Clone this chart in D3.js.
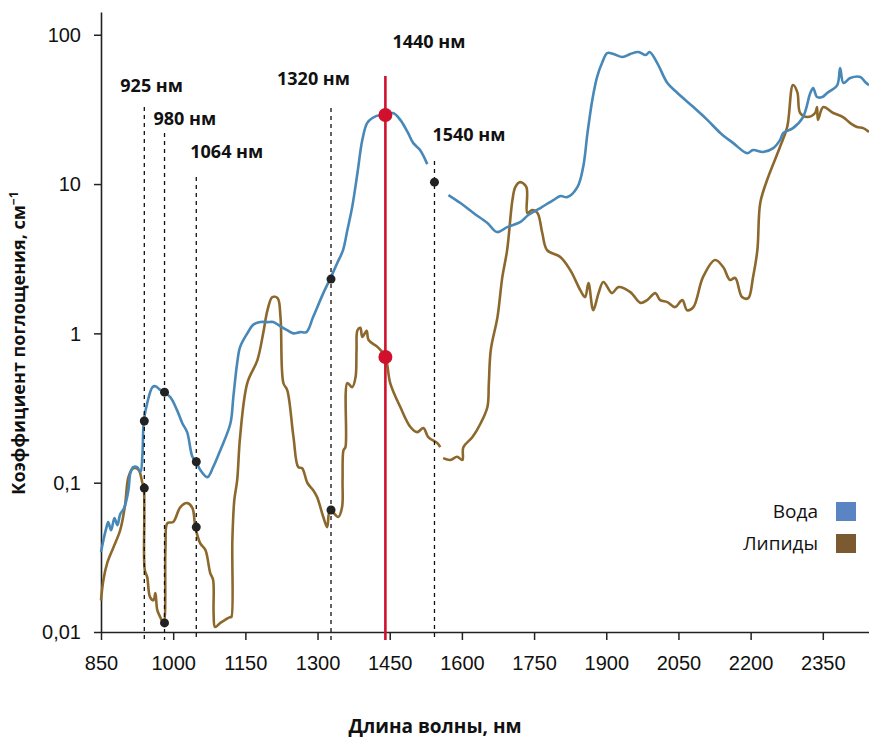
<!DOCTYPE html>
<html>
<head>
<meta charset="utf-8">
<script src="https://cdn.jsdelivr.net/npm/d3@7"></script>
<style>
  body { margin: 0; background: #fff; }
  svg { display: block; font-family: "Open Sans", "DejaVu Sans", sans-serif; }
</style>
</head>
<body>
<div id="chart"></div>
<script>

// Axis ticks
var xTicks = [850, 1000, 1150, 1300, 1450, 1600, 1750, 1900, 2050, 2200, 2350];
var yTicks = [0.01, 0.1, 1, 10, 100];
var yTickLabels = ["0,01", "0,1", "1", "10", "100"];

// Water absorption (nm / cm^-1), null = break in the curve
var waterNm = [850, 855, 861, 865, 871, 878, 884, 890, 898, 907, 911, 917, 925, 932, 936, 939, 946, 957, 963, 971,
  980, 994, 1008, 1019, 1029, 1040, 1048, 1056, 1071, 1083, 1098, 1119, 1125, 1133, 1139, 1154, 1166, 1181, 1196, 1208,
  1222, 1237, 1250, 1264, 1277, 1291, 1312, 1326, 1341, 1353, 1362, 1372, 1383, 1393, 1403, 1414, 1430, 1441, 1457, 1472,
  1488, 1499, 1513, 1528, 1550, 1572, 1597, 1624, 1653, 1673, 1694, 1721, 1738, 1763, 1790, 1805, 1819, 1840, 1852, 1861,
  1871, 1881, 1892, 1902, 1915, 1934, 1950, 1967, 1982, 1990, 2006, 2027, 2048, 2081, 2110, 2137, 2164, 2193, 2205, 2226,
  2247, 2261, 2268, 2288, 2309, 2324, 2330, 2338, 2349, 2359, 2380, 2386, 2393, 2407, 2428, 2438, 2446];
var waterVal = [0.0343, 0.0412, 0.0496, 0.0545, 0.0481, 0.058, 0.052, 0.0616, 0.0676, 0.0891, 0.116, 0.127, 0.127, 0.118, 0.153, 0.259, 0.341, 0.436, 0.443, 0.423,
  0.404, 0.374, 0.306, 0.25, 0.218, 0.149, 0.138, 0.122, 0.109, 0.127, 0.165, 0.25, 0.374, 0.633, 0.809, 1.0, 1.14, 1.19, 1.19, 1.19,
  1.12, 1.05, 1.0, 1.02, 1.02, 1.29, 1.86, 2.31, 2.96, 3.61, 4.92, 7.02, 11.9, 19.7, 25.6, 27.7, 29.0, 29.0, 29.9, 26.9,
  22.0, 18.8, 16.9, 13.6, null, 8.44, 7.46, 6.4, 5.48, 4.77, 5.15, 5.56, 6.2, 6.91, 7.81, 8.31, 8.18, 9.55, 13.0, 22.0,
  36.6, 52.2, 65.6, 75.4, 74.3, 70.9, 74.3, 76.6, 73.1, 76.6, 64.6, 47.5, 40.7, 32.8, 26.9, 22.0, 18.8, 16.1, 16.9, 16.4,
  17.4, 19.7, 22.0, 23.7, 28.1, 40.7, 44.0, 38.3, 38.3, 40.7, 46.0, 59.8, 47.5, 51.3, 52.1, 48.2, 46.0];

// Lipid absorption (nm / cm^-1)
var lipidNm = [850, 855, 863, 876, 890, 900, 907, 917, 928, 936, 939, 940, 941, 946, 952, 959, 963, 967, 973, 980,
  984, 988, 1000, 1015, 1029, 1040, 1046, 1056, 1067, 1077, 1083, 1084, 1087, 1098, 1119, 1121, 1123, 1127, 1133, 1139,
  1154, 1175, 1187, 1196, 1206, 1217, 1223, 1229, 1237, 1250, 1260, 1268, 1279, 1291, 1299, 1312, 1320, 1326, 1343, 1351,
  1352, 1354, 1358, 1362, 1372, 1379, 1381, 1383, 1389, 1393, 1402, 1406, 1425, 1441, 1451, 1472, 1493, 1507, 1520, 1530,
  1549, 1555, 1558, 1561, 1576, 1590, 1601, 1603, 1622, 1639, 1653, 1656, 1660, 1674, 1684, 1694, 1705, 1711, 1721, 1734,
  1736, 1746, 1757, 1767, 1777, 1805, 1825, 1846, 1856, 1863, 1873, 1884, 1894, 1912, 1925, 1950, 1971, 1985, 2002, 2012,
  2027, 2043, 2058, 2068, 2081, 2101, 2126, 2143, 2157, 2168, 2182, 2195, 2205, 2214, 2220, 2234, 2261, 2276, 2288, 2297,
  2303, 2318, 2334, 2338, 2340, 2351, 2372, 2392, 2407, 2421, 2434, 2446];
var lipidVal = [0.0163, 0.0223, 0.029, 0.037, 0.0482, 0.0708, 0.109, 0.125, 0.122, 0.0995, 0.092, 0.0626, 0.026, 0.0233, 0.0171, 0.0163, 0.0182, 0.014, 0.0126, 0.0115,
  0.037, 0.0536, 0.0545, 0.0687, 0.073, 0.0676, 0.0504, 0.0394, 0.0354, 0.0248, 0.0223, 0.0134, 0.0108, 0.0115, 0.0126, 0.0126, 0.0412, 0.0764, 0.104, 0.202,
  0.465, 0.662, 1.0, 1.43, 1.75, 1.72, 1.29, 0.465, 0.417, 0.202, 0.127, 0.125, 0.0995, 0.0891, 0.0801, 0.0589, 0.0504, 0.0656, 0.0589, 0.0687,
  0.104, 0.165, 0.173, 0.465, 0.436, 0.509, 0.77, 1.05, 1.09, 0.945, 1.04, 0.902, 0.809, 0.694, 0.465, 0.321, 0.236, 0.218, 0.232, 0.202,
  0.184, 0.173, null, 0.146, 0.142, 0.149, 0.142, 0.173, 0.202, 0.25, 0.321, 0.465, 0.773, 1.29, 2.38, 3.61, 7.81, 9.55, 10.3, 9.55,
  6.4, 6.7, 6.4, 4.7, 3.61, 3.24, 2.66, 1.95, 1.75, 2.17, 1.43, 1.86, 2.21, 1.86, 2.04, 1.89, 1.6, 1.67, 1.86, 1.67,
  1.62, 1.5, 1.67, 1.43, 1.5, 2.38, 3.1, 2.78, 2.28, 2.35, 1.75, 1.72, 2.38, 3.61, 7.46, 10.6, 17.7, 24.1, 46.0, 41.3,
  29.9, 28.1, 29.9, 32.8, 26.9, 32.8, 29.9, 28.1, 25.6, 24.1, 23.7, 22.3];

// Laser wavelengths marked on the chart (label, drawn position, values on curves)
var markerLabels = ["925 нм", "980 нм", "1064 нм", "1320 нм", "1440 нм", "1540 нм"];
var markerNm = [940, 982, 1048, 1328, 1441, 1543];
var markerWater = [0.259, 0.404, 0.138, 2.31, 29.0, 10.3];
var markerLipid = [0.092, 0.0115, 0.0504, 0.0656, 0.694, null];

var seriesNames = ["Вода", "Липиды"];

// Layout of marker labels (pixels): label offset, label baseline, top of the guide line
var labelLayout = [
  {dx: -24, y: 92, top: 107},
  {dx: -11, y: 125, top: 133},
  {dx: -6, y: 158, top: 177},
  {dx: -54, y: 85, top: 108},
  {dx: 7, y: 48, top: 76},
  {dx: -2, y: 141, top: 161}
];

var width = 869,
  height = 740,
  margin = {top: 12, right: 0, bottom: 108, left: 101};

var waterColor = "#4888b8",
  lipidColor = "#8c682c",
  redColor = "#d0102c";

var chartW = width - margin.left - margin.right;
var chartH = height - margin.top - margin.bottom;

var xScale = d3.scaleLinear()
  .domain([850, 2446])
  .range([0, chartW]);

var yScale = d3.scaleLog()
  .domain([0.01, 142])
  .range([chartH, 0]);

var svg = d3.select("#chart").append("svg")
  .attr("width", width)
  .attr("height", height);

var container = svg.append("g")
  .attr("transform", "translate(" + margin.left + "," + margin.top + ")");

// Axes
var xAxis = d3.axisBottom(xScale)
  .tickValues(xTicks)
  .tickFormat(d3.format("d"))
  .tickSize(8)
  .tickPadding(16)
  .tickSizeOuter(0);

var yAxis = d3.axisLeft(yScale)
  .tickValues(yTicks)
  .tickFormat(function(d, i) { return yTickLabels[i]; })
  .tickSize(7)
  .tickPadding(13)
  .tickSizeOuter(0);

var gx = container.append("g")
  .attr("class", "x axis")
  .attr("transform", "translate(0," + chartH + ")")
  .call(xAxis);

var gy = container.append("g")
  .attr("class", "y axis")
  .call(yAxis);

[gx, gy].forEach(function(g) {
  g.select(".domain").attr("stroke", "#222").attr("stroke-width", 1.6);
  g.selectAll(".tick line").attr("stroke", "#222").attr("stroke-width", 1.5);
  g.selectAll(".tick text")
    .attr("fill", "#111")
    .style("font-size", "20px");
});
gy.selectAll(".tick text").attr("dy", "0.34em");

// Axis titles
svg.append("text")
  .attr("x", 435)
  .attr("y", 733)
  .attr("text-anchor", "middle")
  .style("font-size", "19px")
  .style("font-weight", "bold")
  .attr("fill", "#111")
  .text("Длина волны, нм");

var yTitle = svg.append("text")
  .attr("transform", "translate(25,343) rotate(-90)")
  .attr("text-anchor", "middle")
  .style("font-size", "18px")
  .style("font-weight", "bold")
  .attr("fill", "#111");
yTitle.append("tspan").text("Коэффициент поглощения, см");
yTitle.append("tspan")
  .attr("dy", "-0.55em")
  .style("font-size", "12px")
  .text("−1");

// Curves
function toPoints(xs, ys) {
  return xs.map(function(d, i) { return {nm: d, value: ys[i]}; });
}

var line = d3.line()
  .defined(function(d) { return d.value != null; })
  .x(function(d) { return xScale(d.nm); })
  .y(function(d) { return yScale(d.value); })
  .curve(d3.curveCatmullRom.alpha(0.5));

container.append("path")
  .datum(toPoints(lipidNm, lipidVal))
  .attr("fill", "none")
  .attr("stroke", lipidColor)
  .attr("stroke-width", 2.6)
  .attr("stroke-linejoin", "round")
  .attr("d", line);

container.append("path")
  .datum(toPoints(waterNm, waterVal))
  .attr("fill", "none")
  .attr("stroke", waterColor)
  .attr("stroke-width", 2.6)
  .attr("stroke-linejoin", "round")
  .attr("d", line);

// Marker guide lines and labels
var markers = markerLabels.map(function(label, i) {
  return {label: label, nm: markerNm[i], water: markerWater[i], lipid: markerLipid[i], layout: labelLayout[i], main: label === "1440 нм"};
});

var mg = container.selectAll(".marker")
  .data(markers)
  .enter().append("g")
  .attr("class", "marker");

mg.append("line")
  .attr("x1", function(d) { return xScale(d.nm); })
  .attr("x2", function(d) { return xScale(d.nm); })
  .attr("y1", function(d) { return d.layout.top - margin.top; })
  .attr("y2", chartH + 8)
  .attr("stroke", function(d) { return d.main ? redColor : "#111"; })
  .attr("stroke-width", function(d) { return d.main ? 2.6 : 1.3; })
  .attr("stroke-dasharray", function(d) { return d.main ? null : "4,4"; });

mg.append("text")
  .attr("x", function(d) { return xScale(d.nm) + d.layout.dx; })
  .attr("y", function(d) { return d.layout.y - margin.top; })
  .style("font-size", "18px")
  .style("font-weight", "bold")
  .attr("fill", "#111")
  .text(function(d) { return d.label; });

// Dots where curves cross the guides
var dots = [];
markers.forEach(function(d) {
  if (d.water != null) dots.push({nm: d.nm, value: d.water, main: d.main});
  if (d.lipid != null) dots.push({nm: d.nm, value: d.lipid, main: d.main});
});

container.selectAll(".dot")
  .data(dots)
  .enter().append("circle")
  .attr("class", "dot")
  .attr("cx", function(d) { return xScale(d.nm); })
  .attr("cy", function(d) { return yScale(d.value); })
  .attr("r", function(d) { return d.main ? 7 : 4.5; })
  .attr("fill", function(d) { return d.main ? redColor : "#222"; });

// Legend
var legendColors = ["#5b84c2", "#7b5a32"];
var legend = svg.selectAll(".legend")
  .data(seriesNames)
  .enter().append("g")
  .attr("class", "legend")
  .attr("transform", function(d, i) { return "translate(0," + (511 + i * 32) + ")"; });

legend.append("text")
  .attr("x", 818)
  .attr("dy", "0.35em")
  .attr("text-anchor", "end")
  .style("font-size", "19px")
  .attr("fill", "#111")
  .text(function(d) { return d; });

legend.append("rect")
  .attr("x", 836)
  .attr("y", -9)
  .attr("width", 20)
  .attr("height", 19)
  .attr("fill", function(d, i) { return legendColors[i]; });

</script>
</body>
</html>
